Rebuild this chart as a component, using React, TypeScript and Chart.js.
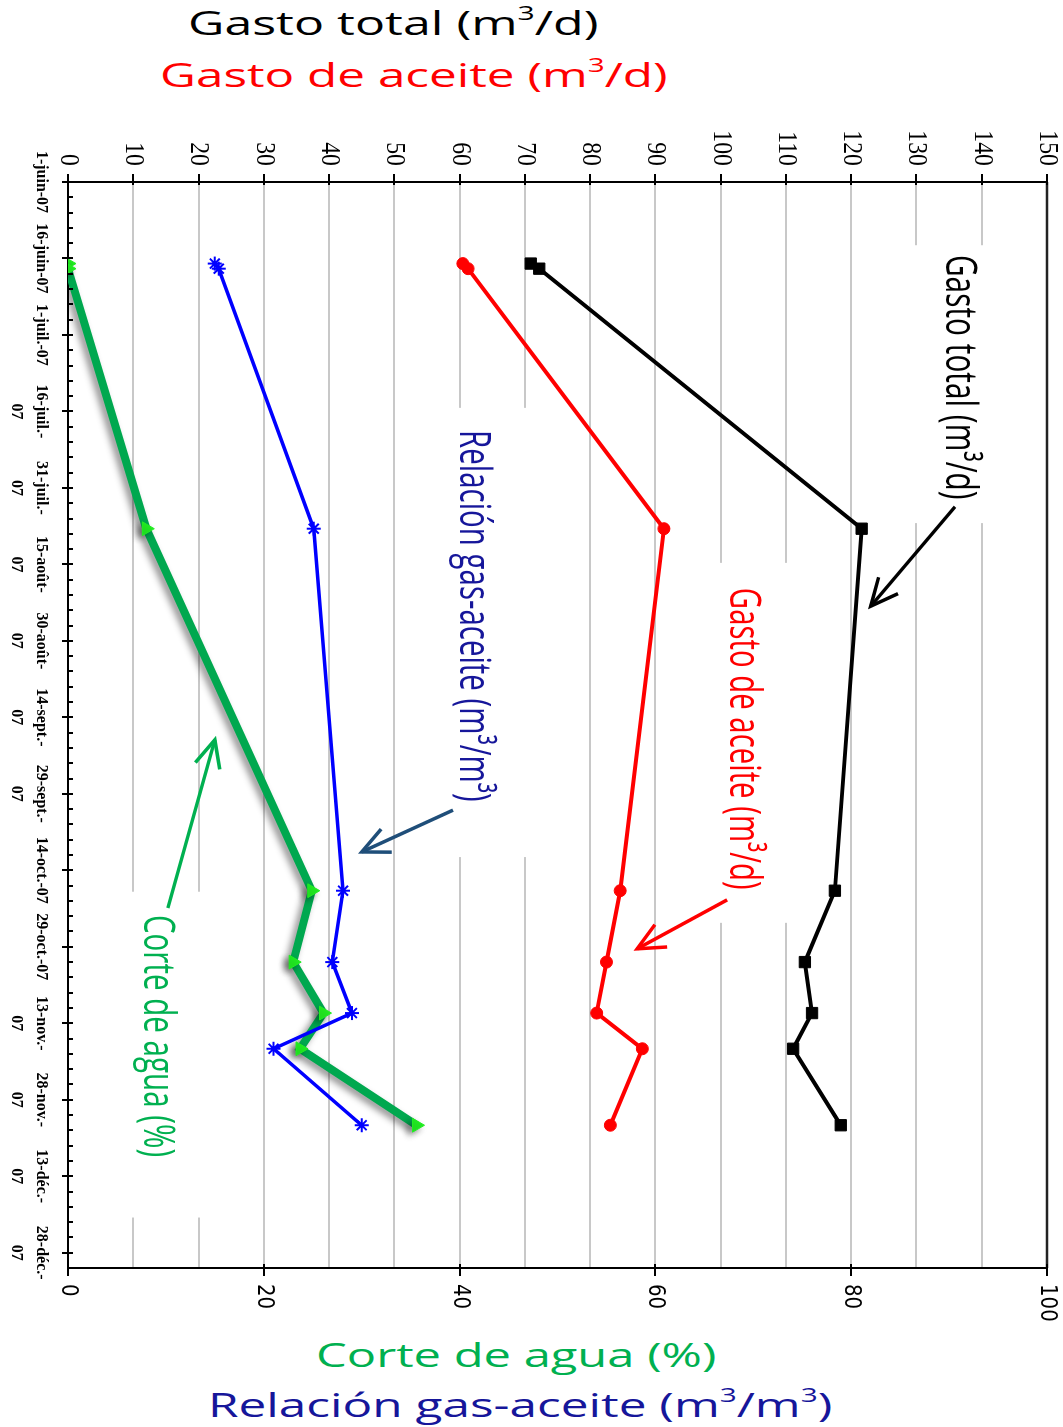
import React, { useEffect, useLayoutEffect, useRef } from 'react';
import { Chart, registerables } from 'chart.js';

Chart.register(...registerables);

// ---------------- data ----------------
const DATES = ['2007-06-17', '2007-06-18', '2007-08-08', '2007-10-18', '2007-11-01', '2007-11-11', '2007-11-18', '2007-12-03'];
const GASTO_TOTAL = [70.9, 72.2, 121.6, 117.5, 112.9, 114.0, 111.1, 118.4];
const GASTO_ACEITE = [60.5, 61.3, 91.3, 84.6, 82.5, 81.0, 88.0, 83.1];
const RELACION_GAS_ACEITE = [15.0, 15.4, 25.1, 28.1, 27.0, 29.0, 21.0, 30.0];
const CORTE_AGUA = [0.0, 0.0, 8.0, 24.9, 23.0, 26.1, 23.7, 35.6];

const AXIS_START = '2007-06-01';
const AXIS_END = '2007-12-31';
const DATE_TICK_DATES = ['2007-06-01', '2007-06-16', '2007-07-01', '2007-07-16', '2007-07-31', '2007-08-15', '2007-08-30', '2007-09-14', '2007-09-29', '2007-10-14', '2007-10-29', '2007-11-13', '2007-11-28', '2007-12-13', '2007-12-28'];
const DATE_TICK_LABELS: string[][] = [
  ['1-juin-07'], ['16-juin-07'], ['1-juil.-07'], ['16-juil.-', '07'], ['31-juil.-', '07'],
  ['15-août-', '07'], ['30-août-', '07'], ['14-sept.-', '07'], ['29-sept.-', '07'],
  ['14-oct.-07'], ['29-oct.-07'], ['13-nov.-', '07'], ['28-nov.-', '07'], ['13-déc.-', '07'], ['28-déc.-', '07'],
];
const MINOR_TICK_STEP_DAYS = 3;
const GASTO_TICKS = [0, 10, 20, 30, 40, 50, 60, 70, 80, 90, 100, 110, 120, 130, 140, 150];
const PCT_TICKS = [0, 20, 40, 60, 80, 100];

// annotations (positions in data units: day offset, value on the "gasto" axis)
const NOTES = [
  { text: 'Gasto total (m³/d)', color: '#000000', day: 38.3, value: 136.4, spanDays: 48 },
  { text: 'Gasto de aceite (m³/d)', color: '#ff0000', day: 109.2, value: 103.3, spanDays: 59.2 },
  { text: 'Relación gas-aceite (m³/m³)', color: '#16169a', day: 85.1, value: 62.0, spanDays: 72.9 },
  { text: 'Corte de agua (%)', color: '#00b050', day: 167.5, value: 13.6, spanDays: 47.5 },
];
const MASKS = [
  { d0: 12.4, d1: 66.9, v0: 124.4, v1: 143.5 },
  { d0: 74.7, d1: 145.3, v0: 95.3, v1: 112.1 },
  { d0: 44.3, d1: 132.4, v0: 57.0, v1: 72.3 },
  { d0: 139.2, d1: 203.1, v0: 6.4, v1: 24.8 },
];
const ARROWS = [
  { color: '#000000', from: [63.7, 135.9], to: [83.2, 123.0] },
  { color: '#ff0000', from: [140.8, 101.0], to: [150.4, 87.2] },
  { color: '#1f4e79', from: [123.2, 59.0], to: [131.4, 45.0] },
  { color: '#00b050', from: [142.4, 15.3], to: [109.4, 22.5] },
];

// ---------------- layout ----------------
const PAGE_W = 1063;
const PAGE_H = 1427;
const ROT_TOP = 120;
const CW = 1210; // canvas width (becomes page height after rotation)
const CH = 1063; // canvas height (becomes page width)

const MS_DAY = 86400000;
const dayOf = (s: string) => (Date.parse(s + 'T00:00:00Z') - Date.parse(AXIS_START + 'T00:00:00Z')) / MS_DAY;

function drawText(ctx: CanvasRenderingContext2D, text: string, x: number, y: number, font: string, color: string, sx: number, align: CanvasTextAlign) {
  ctx.save();
  ctx.font = font;
  ctx.fillStyle = color;
  ctx.textAlign = align;
  ctx.textBaseline = 'middle';
  ctx.translate(x, y);
  ctx.scale(sx, 1);
  ctx.fillText(text, 0, 0);
  ctx.restore();
}

function drawArrow(ctx: CanvasRenderingContext2D, x0: number, y0: number, x1: number, y1: number, color: string) {
  const len = 30;
  const ang = (25 * Math.PI) / 180;
  ctx.save();
  ctx.strokeStyle = color;
  ctx.lineWidth = 3.5;
  ctx.lineCap = 'butt';
  ctx.lineJoin = 'miter';
  ctx.beginPath();
  ctx.moveTo(x0, y0);
  ctx.lineTo(x1, y1);
  ctx.stroke();
  const a = Math.atan2(y1 - y0, x1 - x0);
  ctx.beginPath();
  ctx.moveTo(x1 - len * Math.cos(a - ang), y1 - len * Math.sin(a - ang));
  ctx.lineTo(x1, y1);
  ctx.lineTo(x1 - len * Math.cos(a + ang), y1 - len * Math.sin(a + ang));
  ctx.stroke();
  ctx.restore();
}

const SHADOW_DATASET = 3;

const decorPlugin = {
  id: 'decor',
  beforeDatasetsDraw(chart: any) {
    const { ctx } = chart;
    const xs = chart.scales.x;
    const ys = chart.scales.y;
    ctx.save();
    ctx.fillStyle = '#ffffff';
    MASKS.forEach((m) => {
      const x0 = xs.getPixelForValue(m.d0);
      const x1 = xs.getPixelForValue(m.d1);
      const y0 = ys.getPixelForValue(m.v1);
      const y1 = ys.getPixelForValue(m.v0);
      ctx.fillRect(x0, y0, x1 - x0, y1 - y0);
    });
    ctx.restore();
  },
  beforeDatasetDraw(chart: any, args: any) {
    if (args.index === SHADOW_DATASET) {
      const { ctx } = chart;
      ctx.save();
      ctx.shadowColor = 'rgba(0,0,0,0.45)';
      ctx.shadowBlur = 7;
      ctx.shadowOffsetX = 3;
      ctx.shadowOffsetY = 4;
    }
  },
  afterDatasetDraw(chart: any, args: any) {
    if (args.index === SHADOW_DATASET) chart.ctx.restore();
  },
  afterDatasetsDraw(chart: any) {
    const { ctx, chartArea } = chart;
    const xs = chart.scales.x;
    const ys = chart.scales.y;
    const y2 = chart.scales.y2;
    // frame line on the far side
    ctx.save();
    ctx.strokeStyle = '#222';
    ctx.lineWidth = 2.5;
    ctx.beginPath();
    ctx.moveTo(chartArea.left, chartArea.top);
    ctx.lineTo(chartArea.right, chartArea.top);
    ctx.stroke();
    // tick marks
    ctx.strokeStyle = '#000';
    ctx.lineWidth = 2;
    ctx.beginPath();
    GASTO_TICKS.forEach((v) => {
      const p = Math.round(ys.getPixelForValue(v));
      ctx.moveTo(chartArea.left - 8, p);
      ctx.lineTo(chartArea.left + 3, p);
    });
    PCT_TICKS.forEach((v) => {
      const p = Math.round(y2.getPixelForValue(v));
      ctx.moveTo(chartArea.right - 4, p);
      ctx.lineTo(chartArea.right + 8, p);
    });
    DATE_TICK_DATES.forEach((d) => {
      const p = Math.round(xs.getPixelForValue(dayOf(d)));
      ctx.moveTo(p, chartArea.bottom + 6);
      ctx.lineTo(p, chartArea.bottom - 5);
    });
    const maxDay = dayOf(AXIS_END);
    for (let d = MINOR_TICK_STEP_DAYS; d < maxDay; d += MINOR_TICK_STEP_DAYS) {
      const p = Math.round(xs.getPixelForValue(d));
      ctx.moveTo(p, chartArea.bottom);
      ctx.lineTo(p, chartArea.bottom - 5);
    }
    ctx.stroke();
    ctx.restore();

    // annotation texts
    NOTES.forEach((n) => {
      const font = '44px "Liberation Sans Narrow", "Open Sans", sans-serif';
      ctx.save();
      ctx.font = font;
      const w = ctx.measureText(n.text).width;
      ctx.restore();
      const target = xs.getPixelForValue(n.day + n.spanDays / 2) - xs.getPixelForValue(n.day - n.spanDays / 2);
      drawText(ctx, n.text, xs.getPixelForValue(n.day), ys.getPixelForValue(n.value), font, n.color, target / w, 'center');
    });
    // arrows
    ARROWS.forEach((a) => {
      drawArrow(ctx, xs.getPixelForValue(a.from[0]), ys.getPixelForValue(a.from[1]), xs.getPixelForValue(a.to[0]), ys.getPixelForValue(a.to[1]), a.color);
    });
  },
  afterDraw(chart: any) {
    const { ctx, chartArea } = chart;
    const xs = chart.scales.x;
    const ys = chart.scales.y;
    const y2 = chart.scales.y2;
    DATE_TICK_DATES.forEach((d, i) => {
      const p = xs.getPixelForValue(dayOf(d));
      DATE_TICK_LABELS[i].forEach((line, k) => {
        drawText(ctx, line, p, chartArea.bottom + 27 + k * 25, 'bold 16px "Liberation Serif", serif', '#000', 1, 'center');
      });
    });
    GASTO_TICKS.forEach((v) => {
      drawText(ctx, String(v), chartArea.left - 16, ys.getPixelForValue(v), '27px "Liberation Serif", serif', '#000', 0.88, 'right');
    });
    PCT_TICKS.forEach((v) => {
      drawText(ctx, String(v), chartArea.right + 16, y2.getPixelForValue(v), '23px "DejaVu Sans", sans-serif', '#000', 0.86, 'left');
    });
  },
};

const pts = (vals: number[]) => DATES.map((d, i) => ({ x: dayOf(d), y: vals[i] }));

const TITLES = [
  { html: 'Gasto total (m<sup>3</sup>/d)', color: '#000000', x0: 188, x1: 598, baseline: 35, size: 32 },
  { html: 'Gasto de aceite (m<sup>3</sup>/d)', color: '#ff0000', x0: 160, x1: 668, baseline: 87, size: 32 },
  { html: 'Corte de agua (%)', color: '#00b050', x0: 316, x1: 716, baseline: 1367, size: 32 },
  { html: 'Relación gas-aceite (m<sup>3</sup>/m<sup>3</sup>)', color: '#16169a', x0: 208, x1: 833, baseline: 1417, size: 32 },
];

export default function App() {
  const canvasRef = useRef<HTMLCanvasElement | null>(null);
  const titleRefs = useRef<(HTMLDivElement | null)[]>([]);

  useLayoutEffect(() => {
    titleRefs.current.forEach((el, i) => {
      if (!el) return;
      const t = TITLES[i];
      const w = el.offsetWidth;
      el.style.transform = `scaleX(${(t.x1 - t.x0) / w})`;
    });
  }, []);

  useEffect(() => {
    if (!canvasRef.current) return;
    const chart = new Chart(canvasRef.current, {
      type: 'line',
      data: {
        datasets: [
          {
            label: 'Gasto total (m³/d)',
            data: pts(GASTO_TOTAL),
            yAxisID: 'y',
            borderColor: '#000000',
            backgroundColor: '#000000',
            borderWidth: 4,
            pointStyle: 'rect',
            pointRadius: 8,
            pointBorderWidth: 1,
            tension: 0,
          },
          {
            label: 'Gasto de aceite (m³/d)',
            data: pts(GASTO_ACEITE),
            yAxisID: 'y',
            borderColor: '#ff0000',
            backgroundColor: '#ff0000',
            borderWidth: 4,
            pointStyle: 'circle',
            pointRadius: 6,
            pointBorderWidth: 1,
            tension: 0,
          },
          {
            label: 'Relación gas-aceite (m³/m³)',
            data: pts(RELACION_GAS_ACEITE),
            yAxisID: 'y2',
            borderColor: '#0000ff',
            backgroundColor: '#0000ff',
            borderWidth: 3.5,
            pointStyle: 'star',
            pointRadius: 7,
            pointBorderWidth: 2,
            tension: 0,
          },
          {
            label: 'Corte de agua (%)',
            data: pts(CORTE_AGUA),
            yAxisID: 'y2',
            borderColor: '#00a84f',
            backgroundColor: '#22ee22',
            pointBorderColor: '#22ee22',
            borderWidth: 8,
            pointStyle: 'triangle',
            pointRadius: 8,
            pointBorderWidth: 1,
            tension: 0,
          },
        ],
      },
      options: {
        animation: false,
        responsive: false,
        devicePixelRatio: 1,
        events: [],
        layout: { padding: { top: 16, left: 0, right: 0, bottom: 0 } },
        plugins: { legend: { display: false }, tooltip: { enabled: false }, title: { display: false } },
        scales: {
          x: {
            type: 'linear',
            position: 'bottom',
            min: 0,
            max: dayOf(AXIS_END),
            afterBuildTicks: (s: any) => { s.ticks = DATE_TICK_DATES.map((d) => ({ value: dayOf(d) })); },
            afterFit: (s: any) => { s.height = 68; },
            ticks: { display: false },
            grid: { display: false },
            border: { display: true, color: '#000', width: 2 },
          },
          y: {
            type: 'linear',
            position: 'left',
            min: 0,
            max: 150,
            afterBuildTicks: (s: any) => { s.ticks = GASTO_TICKS.map((v) => ({ value: v })); },
            afterFit: (s: any) => { s.width = 62; },
            ticks: { display: false },
            grid: { color: '#c8c8c8', lineWidth: 2, drawTicks: false },
            border: { display: true, color: '#000', width: 2 },
          },
          y2: {
            type: 'linear',
            position: 'right',
            min: 0,
            max: 100,
            afterBuildTicks: (s: any) => { s.ticks = PCT_TICKS.map((v) => ({ value: v })); },
            afterFit: (s: any) => { s.width = 62; },
            ticks: { display: false },
            grid: { display: false },
            border: { display: true, color: '#000', width: 2 },
          },
        },
      } as any,
      plugins: [decorPlugin],
    });
    return () => chart.destroy();
  }, []);

  return (
    <div style={{ position: 'absolute', left: 0, top: 0, width: PAGE_W, height: PAGE_H, background: '#fff', overflow: 'hidden' }}>
      {TITLES.map((t, i) => (
        <div
          key={i}
          ref={(el) => { titleRefs.current[i] = el; }}
          style={{
            position: 'absolute',
            left: t.x0,
            top: t.baseline - 0.888 * t.size,
            whiteSpace: 'nowrap',
            fontFamily: '"Open Sans", sans-serif',
            fontSize: t.size,
            lineHeight: `${t.size}px`,
            color: t.color,
            transformOrigin: '0 0',
          }}
        >
          {t.html.split(/<sup>|<\/sup>/).map((part, k) =>
            k % 2 === 1 ? (
              <span key={k} style={{ fontSize: '0.6em', position: 'relative', top: '-0.75em' }}>{part}</span>
            ) : (
              <span key={k}>{part}</span>
            )
          )}
        </div>
      ))}
      <div
        style={{
          position: 'absolute',
          left: 0,
          top: ROT_TOP,
          width: CW,
          height: CH,
          transformOrigin: '0 0',
          transform: `translate(${PAGE_W}px, 0px) rotate(90deg)`,
        }}
      >
        <canvas ref={canvasRef} width={CW} height={CH} style={{ display: 'block', width: CW, height: CH }} />
      </div>
    </div>
  );
}
